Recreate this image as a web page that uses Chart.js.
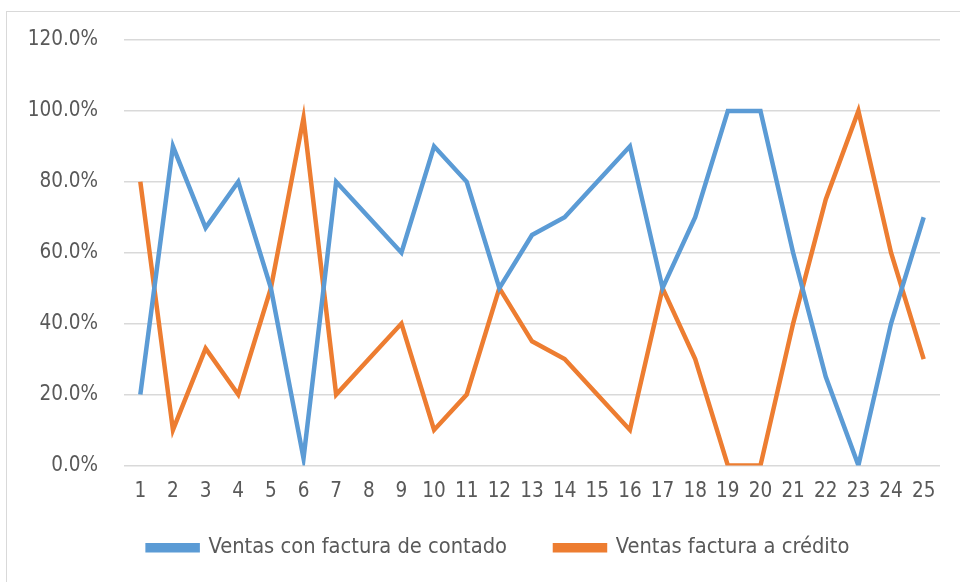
<!DOCTYPE html>
<html>
<head>
<meta charset="utf-8">
<script src="https://cdn.jsdelivr.net/npm/chart.js@4/dist/chart.umd.min.js"></script>
<style>
  body { margin: 0; background: #fff; overflow: hidden; }
  #marco { position: absolute; left: 6px; top: 11px; width: 970px; height: 580px; border: 1px solid #d9d9d9; }
</style>
</head>
<body>
<div id="marco"><canvas id="grafico" width="970" height="580"></canvas></div>
<script>
// datos
const dias = ['1','2','3','4','5','6','7','8','9','10','11','12','13','14','15','16','17','18','19','20','21','22','23','24','25'];
const contado = [0.20, 0.90, 0.67, 0.80, 0.50, 0.02, 0.80, 0.70, 0.60, 0.90, 0.80, 0.50, 0.65, 0.70, 0.80, 0.90, 0.50, 0.70, 1.00, 1.00, 0.60, 0.25, 0.00, 0.40, 0.70];
const credito = [0.80, 0.10, 0.33, 0.20, 0.50, 0.98, 0.20, 0.30, 0.40, 0.10, 0.20, 0.50, 0.35, 0.30, 0.20, 0.10, 0.50, 0.30, 0.00, 0.00, 0.40, 0.75, 1.00, 0.60, 0.30];
const nombres = ['Ventas con factura de contado', 'Ventas factura a crédito'];

const fuente = "'Liberation Sans Narrow', 'DejaVu Sans Condensed', 'Liberation Sans', sans-serif";
Chart.defaults.font.family = fuente;
Chart.defaults.color = '#595959';

// la leyenda ocupa poco alto y se coloca a mano debajo del eje
const moverLeyenda = {
    id: 'moverLeyenda',
    beforeLayout(chart) {
        const leg = chart.legend;
        if (!leg._alto) {
            const fitOrig = leg.fit;
            leg.fit = function () {
                fitOrig.call(this);
                this.height = 74;
            };
            leg._alto = true;
        }
    },
    afterLayout(chart) {
        const leg = chart.legend;
        leg.left += 25;
        leg.right += 25;
        leg.top = 477;
        leg.bottom = leg.top + leg.height;
    }
};

const ctx = document.getElementById('grafico').getContext('2d');
const grafico = new Chart(ctx, {
    type: 'line',
    data: {
        labels: dias,
        datasets: [
            {
                label: nombres[0],
                data: contado,
                borderColor: '#5b9bd5',
                backgroundColor: '#5b9bd5',
                borderWidth: 4.5,
                pointRadius: 0,
                tension: 0
            },
            {
                label: nombres[1],
                data: credito,
                borderColor: '#ed7d31',
                backgroundColor: '#ed7d31',
                borderWidth: 4.5,
                pointRadius: 0,
                tension: 0
            }
        ]
    },
    plugins: [moverLeyenda],
    options: {
        responsive: false,
        animation: false,
        layout: { padding: { left: 0, right: 37, top: 28, bottom: 0 } },
        plugins: {
            legend: {
                position: 'bottom',
                labels: {
                    boxWidth: 50,
                    boxHeight: 5,
                    padding: 48,
                    font: { size: 21.7 },
                    color: '#595959'
                }
            },
            tooltip: { enabled: false }
        },
        scales: {
            x: {
                offset: true,
                grid: { display: false, drawTicks: false },
                border: { display: false },
                ticks: { font: { size: 20.5 }, padding: 14, maxRotation: 0, autoSkip: false }
            },
            y: {
                min: 0,
                max: 1.2,
                afterFit: function (s) {
                    s.width = 117;
                    s.paddingTop = 0;
                    s.paddingBottom = 0;
                },
                grid: { color: '#d9d9d9', lineWidth: 1.5, drawTicks: false },
                border: { display: false },
                ticks: {
                    stepSize: 0.2,
                    padding: 26,
                    font: { size: 20.5 },
                    callback: v => (v * 100).toFixed(1) + '%'
                }
            }
        }
    }
});
</script>
</body>
</html>
